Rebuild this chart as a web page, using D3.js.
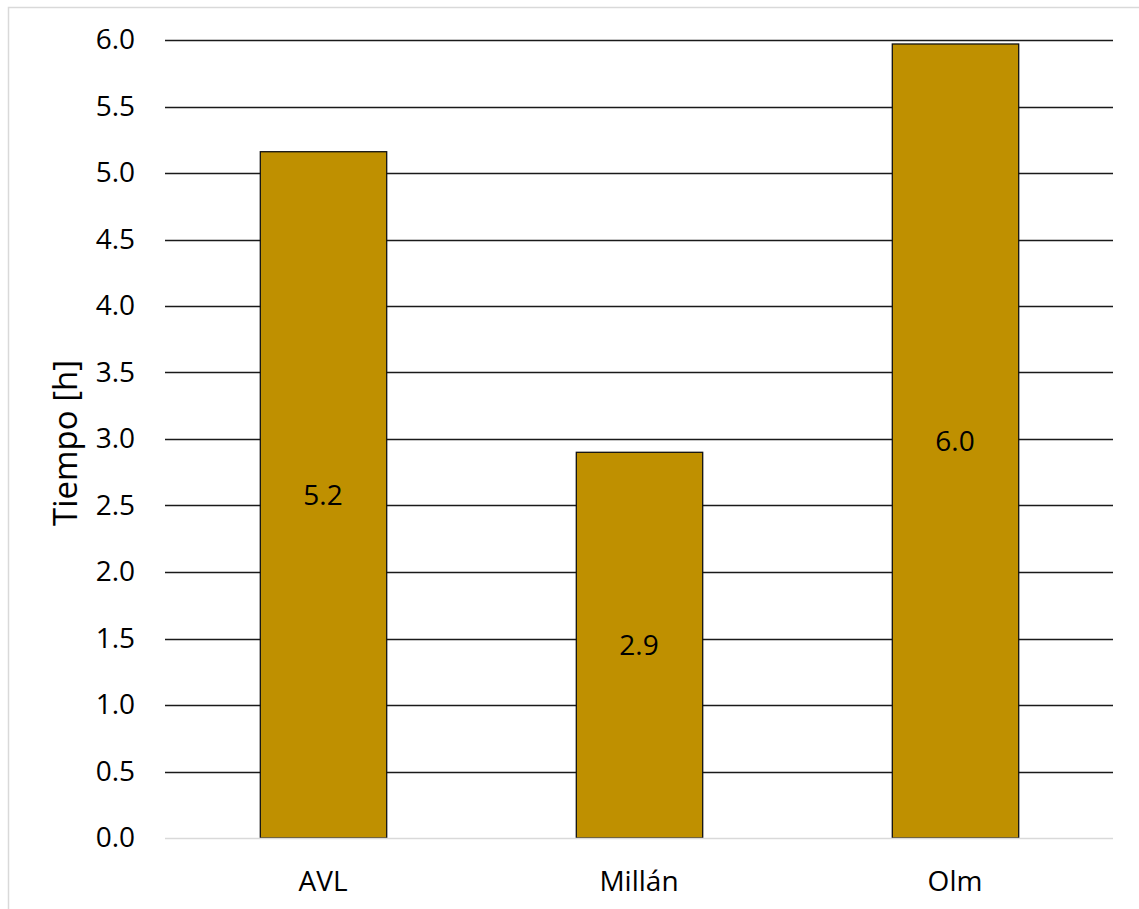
<!DOCTYPE html>
<html>
<head>
<meta charset="utf-8">
<script src="https://cdn.jsdelivr.net/npm/d3@7"></script>
<style>
  html, body { margin: 0; padding: 0; background: #fff; }
  svg { display: block; font-family: "Open Sans", "Noto Sans", sans-serif; }
</style>
</head>
<body>
<svg id="chart" width="1139" height="909"></svg>
<script>
// Time per method, in hours
const categories = ["AVL", "Millán", "Olm"];
const values = [5.16, 2.90, 5.97];
const yTicks = [0, 0.5, 1, 1.5, 2, 2.5, 3, 3.5, 4, 4.5, 5, 5.5, 6];
const yTitle = "Tiempo [h]";

const svg = d3.select("#chart");
const W = 1139, H = 909;
const margin = { left: 165, right: 26, top: 40, bottom: 71 };
const innerW = W - margin.left - margin.right;
const innerH = H - margin.top - margin.bottom;
const FONT = "'Open Sans', 'Noto Sans', sans-serif";

// outer chart frame
svg.append("rect")
  .attr("x", 8.5).attr("y", 7.5)
  .attr("width", W + 10).attr("height", H + 10)
  .attr("fill", "#fff").attr("stroke", "#d9d9d9").attr("stroke-width", 1.5);

const g = svg.append("g").attr("transform", `translate(${margin.left},${margin.top})`);

const x = d3.scaleBand().domain(categories).range([0, innerW])
  .paddingInner(0.6).paddingOuter(0.3);
const y = d3.scaleLinear().domain([0, 6]).range([innerH, 0]);

// horizontal gridlines
g.append("g").selectAll("line")
  .data(yTicks.filter(t => t > 0))
  .join("line")
  .attr("x1", 0).attr("x2", innerW)
  .attr("y1", d => Math.round(y(d)) + 0.5).attr("y2", d => Math.round(y(d)) + 0.5)
  .attr("stroke", "#1a1a1a").attr("stroke-width", 1.3);

// y axis labels
const yAxis = g.append("g")
  .call(d3.axisLeft(y).tickValues(yTicks).tickFormat(d3.format(".1f")).tickSize(0).tickPadding(30));
yAxis.select(".domain").remove();
yAxis.selectAll("text")
  .attr("font-size", 28).attr("fill", "#000").attr("font-family", FONT);

// bars
g.append("g").selectAll("rect")
  .data(categories)
  .join("rect")
  .attr("x", d => x(d) + 0.5)
  .attr("y", (d, i) => y(values[i]))
  .attr("width", x.bandwidth())
  .attr("height", (d, i) => y(0) - y(values[i]))
  .attr("fill", "#bf9000").attr("stroke", "#111").attr("stroke-width", 1.3);

// baseline
g.append("line")
  .attr("x1", 0).attr("x2", innerW)
  .attr("y1", innerH + 0.5).attr("y2", innerH + 0.5)
  .attr("stroke", "#d9d9d9").attr("stroke-width", 1.5);

// value labels
g.append("g").selectAll("text")
  .data(categories)
  .join("text")
  .attr("x", d => x(d) + x.bandwidth() / 2)
  .attr("y", (d, i) => (y(values[i]) + y(0)) / 2)
  .attr("dy", "0.35em")
  .attr("text-anchor", "middle")
  .attr("font-size", 28).attr("fill", "#000").attr("font-family", FONT)
  .text((d, i) => values[i].toFixed(1));

// x axis labels
const xAxis = g.append("g").attr("transform", `translate(0,${innerH})`)
  .call(d3.axisBottom(x).tickSize(0).tickPadding(33));
xAxis.select(".domain").remove();
xAxis.selectAll("text")
  .attr("font-size", 28).attr("fill", "#000").attr("font-family", FONT);

// y axis title
svg.append("text")
  .attr("transform", `translate(77,443) rotate(-90)`)
  .attr("text-anchor", "middle")
  .attr("font-size", 33).attr("fill", "#000").attr("font-family", FONT)
  .text(yTitle);
</script>
</body>
</html>
